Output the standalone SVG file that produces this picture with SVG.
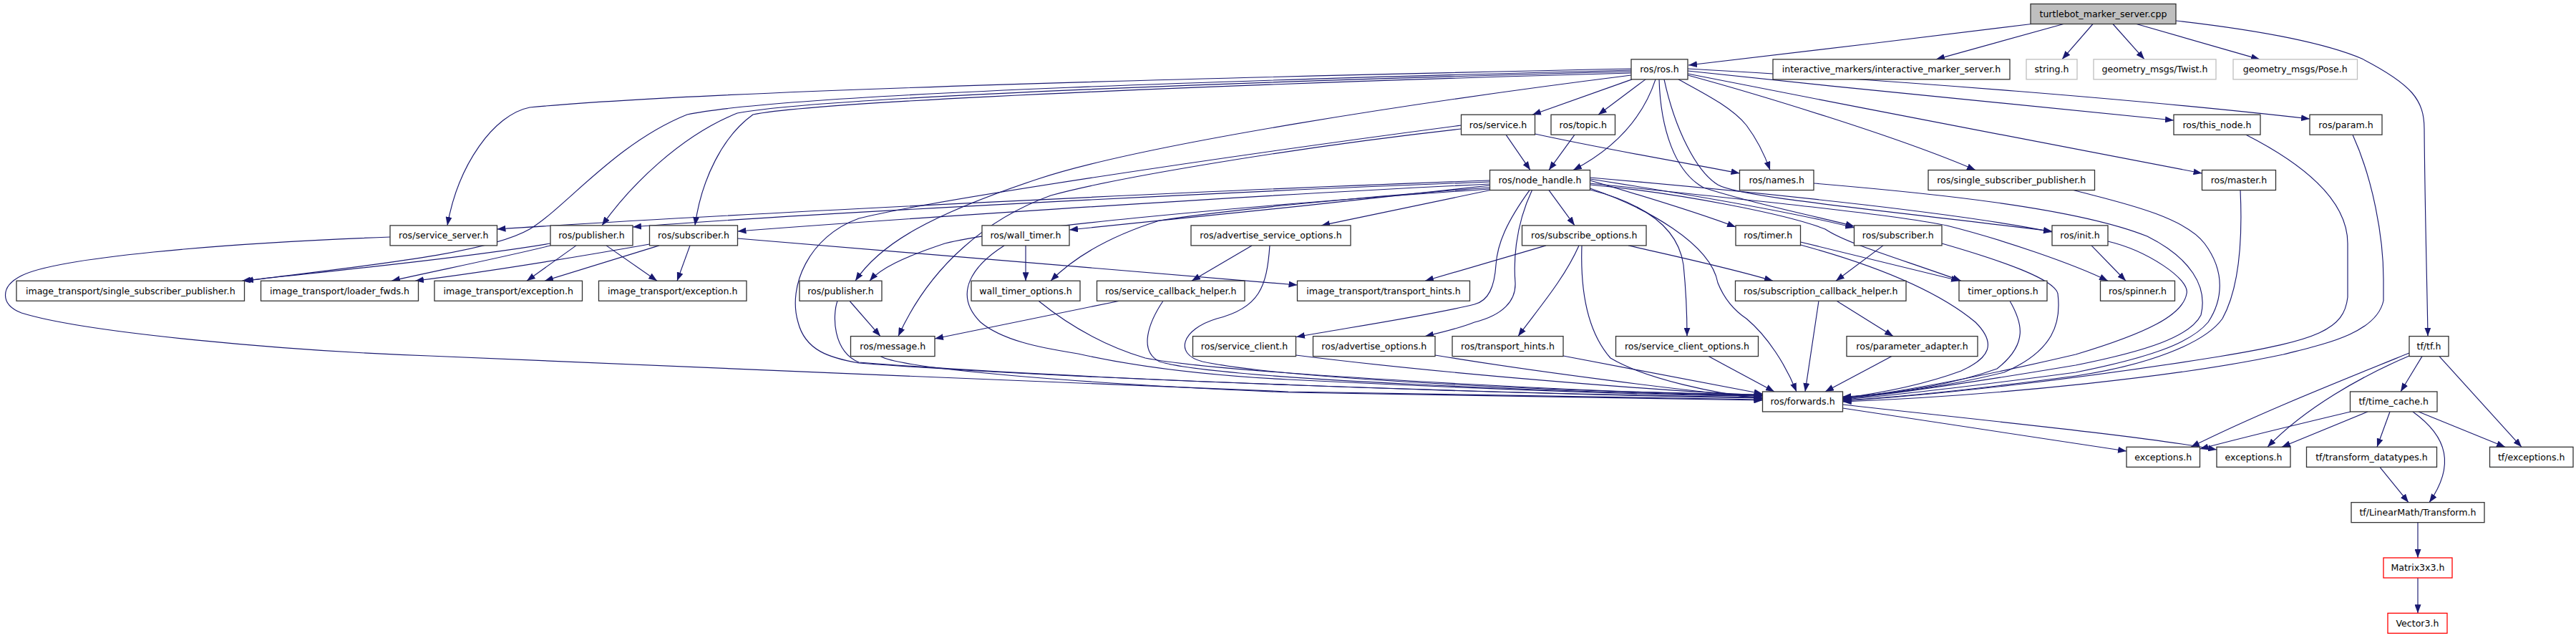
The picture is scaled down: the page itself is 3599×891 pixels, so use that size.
<svg xmlns="http://www.w3.org/2000/svg" width="3599" height="891" viewBox="0 0 3599 891">
<style>
.n rect{fill:#fff;stroke:#333;stroke-width:1.3}
.root rect{fill:#bfbfbf}
.gray rect{stroke:#bfbfbf}
.red rect{stroke:#ff0000}
.n text{font-family:"DejaVu Sans","Liberation Sans",sans-serif;font-size:12.6px;text-anchor:middle;fill:#000}
#edges path{fill:none;stroke:#191970;stroke-width:1.15;marker-end:url(#ah)}
</style>
<defs>
<marker id="ah" markerWidth="12" markerHeight="9" refX="12" refY="4.5" orient="auto" markerUnits="userSpaceOnUse">
<path d="M0,0 L12,4.5 L0,9 z" fill="#191970"/>
</marker>
</defs>
<rect width="3599" height="891" fill="#fff"/>
<g id="edges">
<path d="M2838,33.5 C2700,50 2480,78 2359,91"/>
<path d="M2883,33.5 L2705,82.85"/>
<path d="M2924,33.5 L2881,82.85"/>
<path d="M2952,33.5 L2996,82.85"/>
<path d="M2985,33.5 L3157,82.85"/>
<path d="M3040,29 C3180,45 3260,65 3300,82 C3370,118 3387,140 3387,180 C3388,300 3391,400 3392,469.6"/>
<path d="M2280,110.85 L2141,160.2"/>
<path d="M2299,110.85 L2233,160.2"/>
<path d="M2313,110.85 C2300,150 2270,200 2198,237.55"/>
<path d="M2345,110.85 C2380,130 2420,150 2440,175 C2455,195 2465,215 2473,237.55"/>
<path d="M2358,105 C2450,130 2650,190 2760,237.55"/>
<path d="M2358,103 C2600,150 2900,210 3076.5,242"/>
<path d="M2358,99 C2600,125 2900,155 3037,168"/>
<path d="M2358,96 C2650,112 3000,140 3227,166"/>
<path d="M2279,96 C1800,106 1000,125 740,150 C690,160 640,230 625,314.9"/>
<path d="M2279,98 C1800,110 1100,130 960,160 C860,200 790,290 740,320 C680,355 500,372 342,392.25"/>
<path d="M2279,100 C1800,112 1150,135 1030,158 C950,190 880,260 841,314.9"/>
<path d="M2279,102 C1800,115 1150,140 1052,160 C1010,190 980,250 971,314.9"/>
<path d="M2279,105 C2000,140 1600,200 1450,250 C1300,300 1230,340 1195,392.25"/>
<path d="M2318,110.85 C2320,180 2340,240 2380,262 C2450,285 2530,300 2590.5,316"/>
<path d="M2325,110.85 C2340,180 2370,240 2400,258 C2430,275 2600,290 2867,323"/>
<path d="M2104,188.2 L2138,237.55"/>
<path d="M2144.5,187 C2250,210 2380,232 2430.5,242"/>
<path d="M2041.5,180 C1800,207 1550,250 1468,273 C1380,305 1300,370 1255,469.6"/>
<path d="M2041.5,175 C1700,220 1300,280 1200,305 C1130,330 1100,400 1115,450 C1125,490 1160,500 1200,507 C1500,530 2100,550 2462.5,555"/>
<path d="M2200,188.2 L2164,237.55"/>
<path d="M2081.5,252 C1700,265 1000,300 694.5,320"/>
<path d="M2081.5,254 C1700,268 1100,300 884,317"/>
<path d="M2081.5,257 C1700,275 1200,310 1030.5,323"/>
<path d="M2081.5,259 C1900,280 1650,305 1494,321"/>
<path d="M2081.5,262 C1900,275 1700,295 1620,308 C1550,330 1500,360 1468,392.25"/>
<path d="M2082,265.55 L1846,314.9"/>
<path d="M2164,265.55 L2200,314.9"/>
<path d="M2081.5,264 C1700,290 1400,320 1320,340 C1260,360 1230,375 1215,392.25"/>
<path d="M2137,265.55 C2105,310 2092,340 2090,370 C2088,400 2080,420 2060,425 C2000,440 1900,455 1811,470.5"/>
<path d="M2140.5,265.55 C2115,320 2115,370 2117,395 C2118,420 2100,440 2060,450 C2040,458 2020,463 1991,469.6"/>
<path d="M2221.5,265 C2300,285 2345,320 2352,370 C2356,410 2357,440 2357,469.6"/>
<path d="M2221.5,263 C2300,290 2390,340 2400,395 C2410,420 2425,435 2440,445 C2470,470 2495,510 2510,546.95"/>
<path d="M2221.5,252 C2300,275 2380,300 2425,317"/>
<path d="M2221.5,250 C2350,270 2500,295 2590.5,318"/>
<path d="M2221.5,248 C2500,272 2750,300 2867,324"/>
<path d="M2221.5,256 C2450,280 2650,300 2720,315 C2800,335 2900,370 2945,392.25"/>
<path d="M2221.5,258 C2350,270 2500,300 2550,320 C2580,340 2650,360 2740,392.25"/>
<path d="M769,340 C650,360 450,380 338,392.25"/>
<path d="M769,343 C700,360 600,380 547,392.25"/>
<path d="M805,342.9 L736,392.25"/>
<path d="M847,342.9 L918,392.25"/>
<path d="M907.5,341 C800,360 700,377 580,392.25"/>
<path d="M921,342.9 L761,392.25"/>
<path d="M964,342.9 L946,392.25"/>
<path d="M1030.5,333 L1812.5,398"/>
<path d="M1433,342.9 L1433,392.25"/>
<path d="M1403,342.9 C1360,370 1330,410 1370,450 C1400,475 1450,485 1506,494 C1600,515 1700,525 1800,530 C2100,545 2350,553 2462.5,553"/>
<path d="M1749,342.9 L1665,392.25"/>
<path d="M1774,342.9 C1770,400 1760,430 1700,445 C1650,460 1640,495 1680,505 C1800,530 2200,548 2462.5,551"/>
<path d="M2160,342.9 L1991,392.25"/>
<path d="M2206,342.9 C2185,390 2150,430 2121,469.6"/>
<path d="M2210,342.9 C2208,400 2215,460 2250,500 C2300,530 2400,550 2462.5,557"/>
<path d="M2275,342.9 C2350,360 2420,375 2477,392.25"/>
<path d="M2515.5,338 L2738,392.25"/>
<path d="M2515.5,342 C2600,365 2700,400 2760,450 C2790,480 2780,500 2740,518 C2680,540 2620,550 2574.5,556"/>
<path d="M2631,342.9 L2565,392.25"/>
<path d="M2713,340 C2800,365 2870,390 2875,410 C2880,450 2870,490 2800,520 C2720,540 2630,552 2574.5,554"/>
<path d="M2922,342.9 L2970,392.25"/>
<path d="M2945,337 C3000,350 3060,390 3055,410 C3050,440 3000,465 2900,495 C2750,530 2650,548 2574.5,557"/>
<path d="M1187,420.25 L1230,469.6"/>
<path d="M1170,420.25 C1163,440 1163,490 1200,506 C1500,530 2100,550 2462.5,556"/>
<path d="M1451,420.25 C1500,460 1550,485 1600,500 C1700,520 2200,548 2462.5,552"/>
<path d="M1564,420.25 L1306,473"/>
<path d="M1625,420.25 C1605,450 1590,490 1620,505 C1700,530 2200,548 2462.5,553"/>
<path d="M2541,420.25 L2522,546.95"/>
<path d="M2566,420.25 L2645,469.6"/>
<path d="M2808,420.25 C2825,450 2835,480 2790,515 C2720,540 2640,550 2574.5,555"/>
<path d="M1230,497.6 C1260,515 1500,535 1800,548 C2100,555 2350,558 2462.5,559"/>
<path d="M1810.5,496 C2000,520 2300,545 2462.5,552"/>
<path d="M2005,496 C2150,520 2350,545 2462.5,556"/>
<path d="M2184,497 L2462.5,550"/>
<path d="M2387,497.6 L2479,546.95"/>
<path d="M2643,497.6 L2550,546.95"/>
<path d="M2534,256 C2700,270 2900,290 3000,330 C3060,360 3085,400 3075,440 C3060,470 3000,490 2900,510 C2750,535 2650,550 2574.5,557"/>
<path d="M2897,265.55 C2950,280 3050,300 3080,340 C3110,380 3105,420 3085,450 C3060,480 3000,500 2900,520 C2750,540 2650,552 2574.5,558"/>
<path d="M3130,265.55 C3133,330 3130,400 3105,445 C3080,480 3000,510 2900,525 C2750,545 2650,555 2574.5,559"/>
<path d="M3138,188.2 C3220,230 3280,280 3280,340 L3280,415 C3275,460 3240,475 3100,498 C2900,530 2700,552 2574.5,560"/>
<path d="M3287,188.2 C3315,250 3330,330 3330,390 L3330,420 C3320,465 3250,480 3190,495 C3050,525 2800,552 2574.5,561"/>
<path d="M545,331 C300,340 80,360 30,385 C0,400 0,425 30,437 C120,465 400,490 600,497 C900,510 1500,535 1800,547 C2100,553 2350,557 2462.5,558"/>
<path d="M2574.5,570 L2971,630"/>
<path d="M2574.5,565 C2800,590 3000,610 3097,628"/>
<path d="M3384,497.6 L3354,546.95"/>
<path d="M3408,497.6 L3523,624.3"/>
<path d="M3366,493 C3250,540 3150,580 3061,624.3"/>
<path d="M3366,497 C3300,525 3220,570 3168,624.3"/>
<path d="M3284,575 C3200,595 3130,612 3073.5,627"/>
<path d="M3308,574.95 L3188,624.3"/>
<path d="M3339,574.95 L3321,624.3"/>
<path d="M3379,574.95 L3500,624.3"/>
<path d="M3371,574.95 C3420,610 3430,650 3394,701.65"/>
<path d="M3325,652.3 L3365,701.65"/>
<path d="M3378,729.65 L3378,779"/>
<path d="M3378,807 L3378,856.35"/>
</g>
<g id="root" class="n root"><rect x="2837" y="5.5" width="203" height="28"/><text x="2938.5" y="23.9">turtlebot_marker_server.cpp</text></g>
<g id="ros_h" class="n"><rect x="2279" y="82.85" width="79" height="28"/><text x="2318.5" y="101.25">ros/ros.h</text></g>
<g id="ims" class="n"><rect x="2477" y="82.85" width="331" height="28"/><text x="2642.5" y="101.25">interactive_markers/interactive_marker_server.h</text></g>
<g id="string_h" class="n gray"><rect x="2831" y="82.85" width="71" height="28"/><text x="2866.5" y="101.25">string.h</text></g>
<g id="twist" class="n gray"><rect x="2925" y="82.85" width="171" height="28"/><text x="3010.5" y="101.25">geometry_msgs/Twist.h</text></g>
<g id="pose" class="n gray"><rect x="3120" y="82.85" width="173.5" height="28"/><text x="3206.75" y="101.25">geometry_msgs/Pose.h</text></g>
<g id="service" class="n"><rect x="2041.5" y="160.2" width="103" height="28"/><text x="2093" y="178.6">ros/service.h</text></g>
<g id="topic" class="n"><rect x="2167" y="160.2" width="89.5" height="28"/><text x="2211.75" y="178.6">ros/topic.h</text></g>
<g id="this_node" class="n"><rect x="3037" y="160.2" width="121" height="28"/><text x="3097.5" y="178.6">ros/this_node.h</text></g>
<g id="param" class="n"><rect x="3227" y="160.2" width="101" height="28"/><text x="3277.5" y="178.6">ros/param.h</text></g>
<g id="node_handle" class="n"><rect x="2081.5" y="237.55" width="140" height="28"/><text x="2151.5" y="255.95">ros/node_handle.h</text></g>
<g id="names" class="n"><rect x="2430.5" y="237.55" width="103.5" height="28"/><text x="2482.25" y="255.95">ros/names.h</text></g>
<g id="ssp_ros" class="n"><rect x="2694" y="237.55" width="232.5" height="28"/><text x="2810.25" y="255.95">ros/single_subscriber_publisher.h</text></g>
<g id="master" class="n"><rect x="3076.5" y="237.55" width="103" height="28"/><text x="3128" y="255.95">ros/master.h</text></g>
<g id="service_server" class="n"><rect x="545" y="314.9" width="149.5" height="28"/><text x="619.75" y="333.3">ros/service_server.h</text></g>
<g id="publisher1" class="n"><rect x="769" y="314.9" width="115" height="28"/><text x="826.5" y="333.3">ros/publisher.h</text></g>
<g id="subscriber1" class="n"><rect x="907.5" y="314.9" width="123" height="28"/><text x="969" y="333.3">ros/subscriber.h</text></g>
<g id="wall_timer" class="n"><rect x="1372" y="314.9" width="122" height="28"/><text x="1433" y="333.3">ros/wall_timer.h</text></g>
<g id="adv_srv_opts" class="n"><rect x="1664" y="314.9" width="223" height="28"/><text x="1775.5" y="333.3">ros/advertise_service_options.h</text></g>
<g id="subscribe_opts" class="n"><rect x="2126.5" y="314.9" width="173.5" height="28"/><text x="2213.25" y="333.3">ros/subscribe_options.h</text></g>
<g id="timer" class="n"><rect x="2425" y="314.9" width="90.5" height="28"/><text x="2470.25" y="333.3">ros/timer.h</text></g>
<g id="subscriber2" class="n"><rect x="2590.5" y="314.9" width="122.5" height="28"/><text x="2651.75" y="333.3">ros/subscriber.h</text></g>
<g id="init" class="n"><rect x="2867" y="314.9" width="78" height="28"/><text x="2906" y="333.3">ros/init.h</text></g>
<g id="it_ssp" class="n"><rect x="23" y="392.25" width="318.5" height="28"/><text x="182.25" y="410.65">image_transport/single_subscriber_publisher.h</text></g>
<g id="loader" class="n"><rect x="364.5" y="392.25" width="220" height="28"/><text x="474.5" y="410.65">image_transport/loader_fwds.h</text></g>
<g id="exc_a" class="n"><rect x="607" y="392.25" width="206.5" height="28"/><text x="710.25" y="410.65">image_transport/exception.h</text></g>
<g id="exc_b" class="n"><rect x="836.5" y="392.25" width="206.5" height="28"/><text x="939.75" y="410.65">image_transport/exception.h</text></g>
<g id="publisher2" class="n"><rect x="1117" y="392.25" width="115" height="28"/><text x="1174.5" y="410.65">ros/publisher.h</text></g>
<g id="wto" class="n"><rect x="1357" y="392.25" width="152" height="28"/><text x="1433" y="410.65">wall_timer_options.h</text></g>
<g id="sch" class="n"><rect x="1532.5" y="392.25" width="206.5" height="28"/><text x="1635.75" y="410.65">ros/service_callback_helper.h</text></g>
<g id="it_th" class="n"><rect x="1812.5" y="392.25" width="241" height="28"/><text x="1933" y="410.65">image_transport/transport_hints.h</text></g>
<g id="scbh" class="n"><rect x="2424.5" y="392.25" width="238.5" height="28"/><text x="2543.75" y="410.65">ros/subscription_callback_helper.h</text></g>
<g id="timer_options" class="n"><rect x="2737" y="392.25" width="123" height="28"/><text x="2798.5" y="410.65">timer_options.h</text></g>
<g id="spinner" class="n"><rect x="2934.5" y="392.25" width="104" height="28"/><text x="2986.5" y="410.65">ros/spinner.h</text></g>
<g id="message" class="n"><rect x="1188.5" y="469.6" width="117.5" height="28"/><text x="1247.25" y="488">ros/message.h</text></g>
<g id="service_client" class="n"><rect x="1666.5" y="469.6" width="144" height="28"/><text x="1738.5" y="488">ros/service_client.h</text></g>
<g id="adv_opts" class="n"><rect x="1834.5" y="469.6" width="170.5" height="28"/><text x="1919.75" y="488">ros/advertise_options.h</text></g>
<g id="ros_th" class="n"><rect x="2029" y="469.6" width="155" height="28"/><text x="2106.5" y="488">ros/transport_hints.h</text></g>
<g id="sco" class="n"><rect x="2257.5" y="469.6" width="199" height="28"/><text x="2357" y="488">ros/service_client_options.h</text></g>
<g id="param_adapter" class="n"><rect x="2580" y="469.6" width="183" height="28"/><text x="2671.5" y="488">ros/parameter_adapter.h</text></g>
<g id="tf" class="n"><rect x="3366" y="469.6" width="55" height="28"/><text x="3393.5" y="488">tf/tf.h</text></g>
<g id="forwards" class="n"><rect x="2462.5" y="546.95" width="112" height="28"/><text x="2518.5" y="565.35">ros/forwards.h</text></g>
<g id="time_cache" class="n"><rect x="3283.5" y="546.95" width="121.5" height="28"/><text x="3344.25" y="565.35">tf/time_cache.h</text></g>
<g id="exceptions_a" class="n"><rect x="2971" y="624.3" width="102.5" height="28"/><text x="3022.25" y="642.7">exceptions.h</text></g>
<g id="exceptions_b" class="n"><rect x="3097" y="624.3" width="103" height="28"/><text x="3148.5" y="642.7">exceptions.h</text></g>
<g id="tdt" class="n"><rect x="3222.5" y="624.3" width="182" height="28"/><text x="3313.5" y="642.7">tf/transform_datatypes.h</text></g>
<g id="tf_exc" class="n"><rect x="3478.5" y="624.3" width="116.5" height="28"/><text x="3536.75" y="642.7">tf/exceptions.h</text></g>
<g id="transform" class="n"><rect x="3285" y="701.65" width="186" height="28"/><text x="3378" y="720.05">tf/LinearMath/Transform.h</text></g>
<g id="matrix" class="n red"><rect x="3330" y="779" width="96" height="28"/><text x="3378" y="797.4">Matrix3x3.h</text></g>
<g id="vector" class="n red"><rect x="3336" y="856.35" width="83" height="28"/><text x="3377.5" y="874.75">Vector3.h</text></g>
</svg>
